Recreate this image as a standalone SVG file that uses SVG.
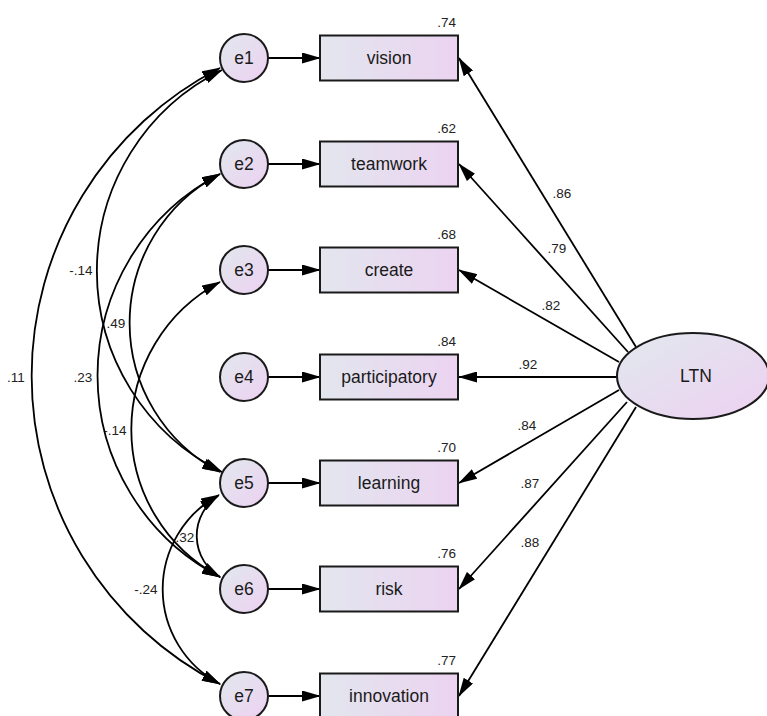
<svg xmlns="http://www.w3.org/2000/svg" width="767" height="716" viewBox="0 0 767 716">
<style>
.box{fill:url(#gBox);stroke:#1a1a1a;stroke-width:2}
.circ{fill:url(#gCirc);stroke:#1a1a1a;stroke-width:2}
.nt{font-family:"Liberation Sans",Arial,sans-serif;font-size:17.5px;fill:#1a1a1a;text-anchor:middle}
.lb{font-family:"Liberation Sans",Arial,sans-serif;font-size:13.5px;fill:#222;text-anchor:middle}
.r2{font-family:"Liberation Sans",Arial,sans-serif;font-size:13.5px;fill:#222;text-anchor:end}
.ln{fill:none;stroke:#000;stroke-width:1.8;marker-end:url(#ah)}
.cv{fill:none;stroke:#000;stroke-width:1.8;marker-start:url(#ah);marker-end:url(#ah)}
</style>
<defs>
<linearGradient id="gBox" x1="0" y1="0" x2="1" y2="0">
<stop offset="0" stop-color="#e2e6ee"/><stop offset="1" stop-color="#ecd3f1"/>
</linearGradient>
<linearGradient id="gCirc" x1="0" y1="0" x2="1" y2="1">
<stop offset="0.1" stop-color="#e2e6ee"/><stop offset="0.9" stop-color="#ecd3f1"/>
</linearGradient>
<marker id="ah" markerUnits="userSpaceOnUse" markerWidth="19" markerHeight="11" refX="18" refY="5.5" orient="auto-start-reverse" viewBox="0 0 19 11">
<path d="M0,0 L19,5.5 L0,11 z" fill="#000"/>
</marker>
</defs>
<rect width="767" height="716" fill="#fff"/>

<g id="labels-cov">
<text class="lb" x="81" y="275">-.14</text>
<text class="lb" x="116" y="328">.49</text>
<text class="lb" x="16" y="382">.11</text>
<text class="lb" x="83" y="382">.23</text>
<text class="lb" x="115" y="435">-.14</text>
<text class="lb" x="185" y="542">.32</text>
<text class="lb" x="146" y="594">-.24</text>
</g>

<g id="connectors">
<path class="cv" d="M220,68 A346,346 0 0 0 220,684"/>
<path class="cv" d="M222,70 A224,224 0 0 0 222,472"/>
<path class="cv" d="M220,174 A168,168 0 0 0 220,472"/>
<path class="cv" d="M220,174 A227,227 0 0 0 220,577"/>
<path class="cv" d="M220,282 A167,167 0 0 0 220,577"/>
<path class="cv" d="M218,496 A48,48 0 0 0 220,577"/>
<path class="cv" d="M219,495 A107,107 0 0 0 220,684"/>

<line class="ln" x1="268" y1="58" x2="320" y2="58"/>
<line class="ln" x1="268" y1="164" x2="320" y2="164"/>
<line class="ln" x1="268" y1="270" x2="320" y2="270"/>
<line class="ln" x1="268" y1="377" x2="320" y2="377"/>
<line class="ln" x1="268" y1="483" x2="320" y2="483"/>
<line class="ln" x1="268" y1="589" x2="320" y2="589"/>
<line class="ln" x1="268" y1="696" x2="320" y2="696"/>

<line class="ln" x1="636" y1="347" x2="459" y2="58"/>
<line class="ln" x1="628" y1="352" x2="459" y2="164"/>
<line class="ln" x1="619" y1="362" x2="459" y2="270"/>
<line class="ln" x1="617" y1="377" x2="459" y2="377"/>
<line class="ln" x1="619" y1="390" x2="459" y2="483"/>
<line class="ln" x1="627" y1="402" x2="459" y2="589"/>
<line class="ln" x1="636" y1="407" x2="459" y2="696"/>
</g>

<g id="labels-load">
<text class="lb" x="562" y="198">.86</text>
<text class="lb" x="557" y="253">.79</text>
<text class="lb" x="551" y="310">.82</text>
<text class="lb" x="528" y="369">.92</text>
<text class="lb" x="527" y="430">.84</text>
<text class="lb" x="530" y="488">.87</text>
<text class="lb" x="530" y="547">.88</text>
</g>

<g id="e1"><circle class="circ" cx="244" cy="58" r="24"/><text class="nt" x="244" y="64">e1</text></g>
<g id="e2"><circle class="circ" cx="244" cy="164" r="24"/><text class="nt" x="244" y="170">e2</text></g>
<g id="e3"><circle class="circ" cx="244" cy="270" r="24"/><text class="nt" x="244" y="276">e3</text></g>
<g id="e4"><circle class="circ" cx="244" cy="377" r="24"/><text class="nt" x="244" y="383">e4</text></g>
<g id="e5"><circle class="circ" cx="244" cy="483" r="24"/><text class="nt" x="244" y="489">e5</text></g>
<g id="e6"><circle class="circ" cx="244" cy="589" r="24"/><text class="nt" x="244" y="595">e6</text></g>
<g id="e7"><circle class="circ" cx="244" cy="696" r="24"/><text class="nt" x="244" y="702">e7</text></g>

<g id="vision"><rect class="box" x="320" y="35.5" width="138" height="45"/><text class="nt" x="389" y="64">vision</text><text class="r2" x="456" y="27">.74</text></g>
<g id="teamwork"><rect class="box" x="320" y="141.5" width="138" height="45"/><text class="nt" x="389" y="170">teamwork</text><text class="r2" x="456" y="133">.62</text></g>
<g id="create"><rect class="box" x="320" y="247.5" width="138" height="45"/><text class="nt" x="389" y="276">create</text><text class="r2" x="456" y="239">.68</text></g>
<g id="participatory"><rect class="box" x="320" y="354.5" width="138" height="45"/><text class="nt" x="389" y="383">participatory</text><text class="r2" x="456" y="346">.84</text></g>
<g id="learning"><rect class="box" x="320" y="460.5" width="138" height="45"/><text class="nt" x="389" y="489">learning</text><text class="r2" x="456" y="452">.70</text></g>
<g id="risk"><rect class="box" x="320" y="566.5" width="138" height="45"/><text class="nt" x="389" y="595">risk</text><text class="r2" x="456" y="558">.76</text></g>
<g id="innovation"><rect class="box" x="320" y="673.5" width="138" height="45"/><text class="nt" x="389" y="702">innovation</text><text class="r2" x="456" y="665">.77</text></g>

<g id="LTN"><ellipse cx="693" cy="376" rx="76" ry="43" fill="url(#gCirc)" stroke="#1a1a1a" stroke-width="2"/><text class="nt" x="696" y="382">LTN</text></g>
</svg>
